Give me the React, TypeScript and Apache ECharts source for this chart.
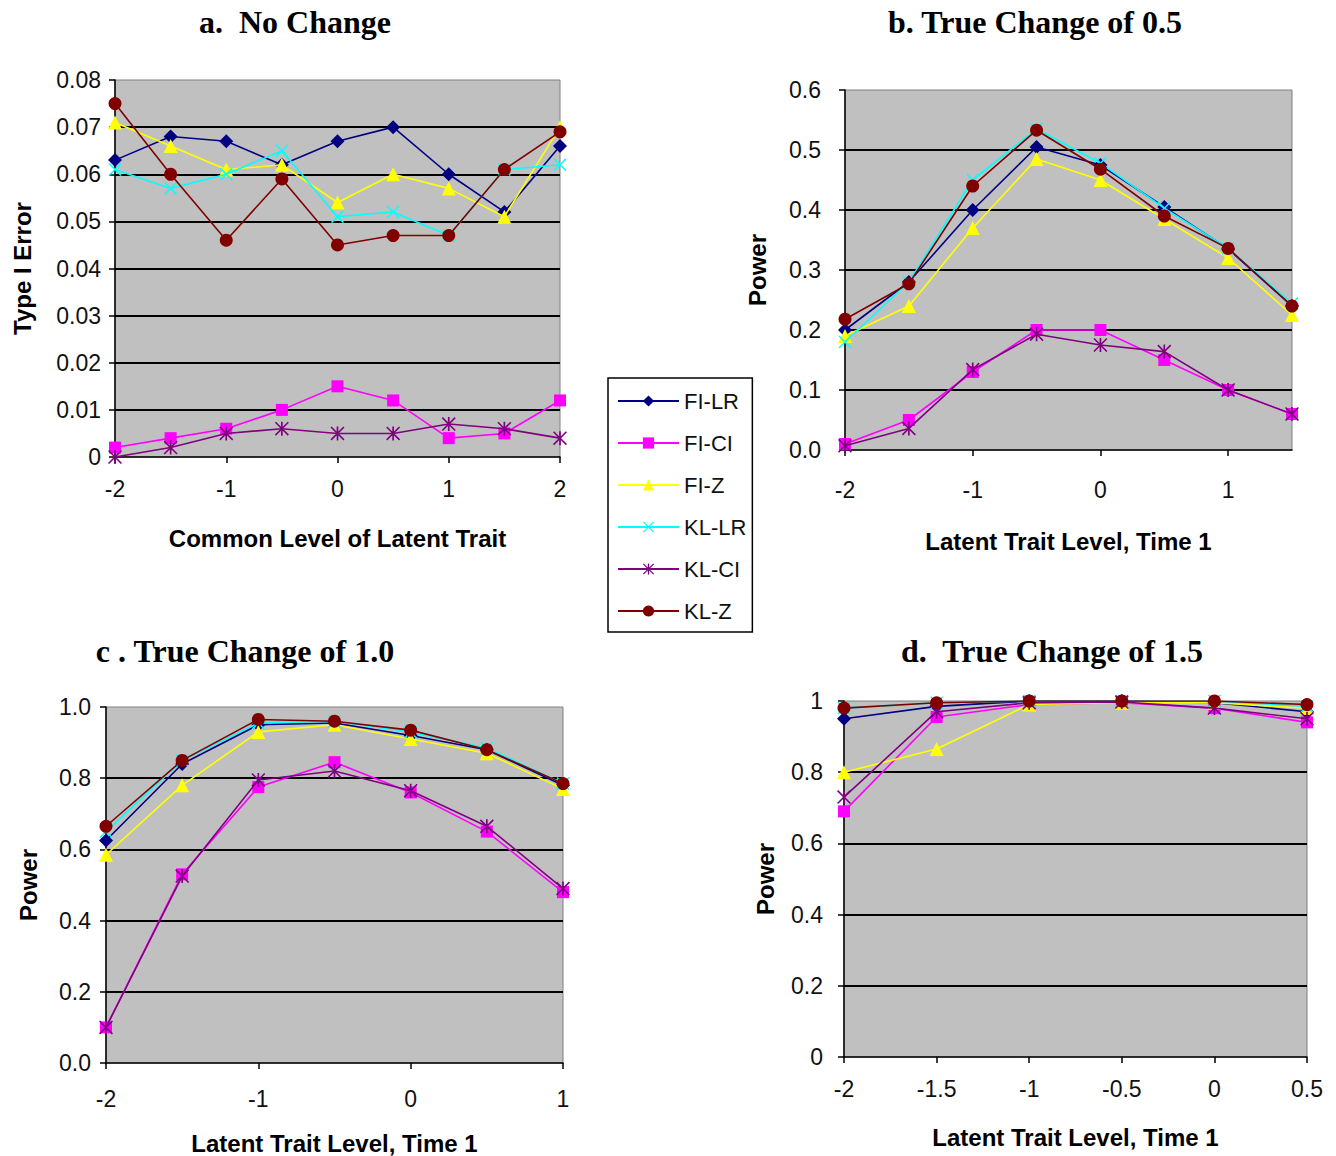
import React, { useEffect, useRef } from "react";
import * as echarts from "echarts";

// ---------- data ----------
const SERIES_NAMES = ["FI-LR", "FI-CI", "FI-Z", "KL-LR", "KL-CI", "KL-Z"];

const xA = ["-2", "-1.5", "-1", "-0.5", "0", "0.5", "1", "1.5", "2"];
const xB = ["-2", "-1.5", "-1", "-0.5", "0", "0.5", "1", "1.5"];
const xC = ["-2", "-1.5", "-1", "-0.5", "0", "0.5", "1"];
const xD = ["-2", "-1.5", "-1", "-0.5", "0", "0.5"];

const A_FILR = [0.063, 0.068, 0.067, 0.062, 0.067, 0.07, 0.06, 0.052, 0.066];
const A_FICI = [0.002, 0.004, 0.006, 0.01, 0.015, 0.012, 0.004, 0.005, 0.012];
const A_FIZ = [0.071, 0.066, 0.061, 0.062, 0.054, 0.06, 0.057, 0.051, 0.07];
const A_KLLR = [0.061, 0.057, 0.06, 0.065, 0.051, 0.052, 0.047, 0.061, 0.062];
const A_KLCI = [0.0, 0.002, 0.005, 0.006, 0.005, 0.005, 0.007, 0.006, 0.004];
const A_KLZ = [0.075, 0.06, 0.046, 0.059, 0.045, 0.047, 0.047, 0.061, 0.069];

const B_FILR = [0.2, 0.28, 0.4, 0.505, 0.475, 0.405, 0.335, 0.24];
const B_FICI = [0.01, 0.05, 0.13, 0.2, 0.2, 0.15, 0.1, 0.06];
const B_FIZ = [0.19, 0.24, 0.37, 0.485, 0.45, 0.385, 0.32, 0.225];
const B_KLLR = [0.18, 0.28, 0.45, 0.535, 0.478, 0.403, 0.336, 0.244];
const B_KLCI = [0.007, 0.036, 0.134, 0.193, 0.175, 0.164, 0.1, 0.06];
const B_KLZ = [0.218, 0.277, 0.44, 0.533, 0.468, 0.39, 0.336, 0.24];

const C_FILR = [0.625, 0.84, 0.95, 0.955, 0.92, 0.88, 0.78];
const C_FICI = [0.1, 0.53, 0.775, 0.845, 0.76, 0.65, 0.48];
const C_FIZ = [0.585, 0.78, 0.93, 0.95, 0.91, 0.87, 0.77];
const C_KLLR = [0.65, 0.85, 0.955, 0.96, 0.93, 0.885, 0.785];
const C_KLCI = [0.1, 0.525, 0.795, 0.82, 0.765, 0.665, 0.49];
const C_KLZ = [0.665, 0.85, 0.965, 0.96, 0.935, 0.88, 0.785];

const D_FILR = [0.95, 0.985, 1.0, 1.0, 0.995, 0.97];
const D_FICI = [0.69, 0.955, 0.99, 0.995, 0.98, 0.94];
const D_FIZ = [0.8, 0.865, 0.99, 0.995, 0.995, 0.98];
const D_KLLR = [0.98, 0.995, 1.0, 1.0, 1.0, 0.985];
const D_KLCI = [0.73, 0.97, 0.995, 0.997, 0.98, 0.95];
const D_KLZ = [0.98, 0.995, 1.0, 1.0, 1.0, 0.99];

const TITLES = [
  "a.  No Change",
  "b. True Change of 0.5",
  "c . True Change of 1.0",
  "d.  True Change of 1.5",
];
const X_NAMES = [
  "Common Level of Latent Trait",
  "Latent Trait Level, Time 1",
  "Latent Trait Level, Time 1",
  "Latent Trait Level, Time 1",
];
const Y_NAMES = ["Type I Error", "Power", "Power", "Power"];

// ---------- styles ----------
const COLORS = ["#000080", "#FF00FF", "#FFFF00", "#00FFFF", "#800080", "#800000"];
const X_PATH =
  "path://M0 0.8L0.8 0L10 9.2L9.2 10ZM9.2 0L10 0.8L0.8 10L0 9.2Z";
const STAR_PATH =
  "path://M0 0.8L0.8 0L10 9.2L9.2 10ZM9.2 0L10 0.8L0.8 10L0 9.2ZM4.4 0L5.6 0L5.6 10L4.4 10Z";
const SYMBOLS = ["diamond", "rect", "triangle", X_PATH, STAR_PATH, "circle"];
const SYMBOL_SIZES = [14, 12, 14, 13, 14, 13];

const SANS = "Arial, 'Liberation Sans', sans-serif";
const SERIF = "'Times New Roman', 'Liberation Serif', serif";

export default function App() {
  const ref = useRef<HTMLDivElement>(null);

  useEffect(() => {
    if (!ref.current) return;
    const chart = echarts.init(ref.current, undefined, { renderer: "svg" });

    const panels = [
      { cats: xA, data: [A_FILR, A_FICI, A_FIZ, A_KLLR, A_KLCI, A_KLZ], max: 0.08, interval: 0.01,
        fmt: (v: number) => (v === 0 ? "0" : v.toFixed(2)), skip: 1,
        grid: { left: 115, top: 80, width: 445, height: 377 },
        xMargin: 20, yMargin: 14, xGap: 69, yGap: 81, title: [295, 6] },
      { cats: xB, data: [B_FILR, B_FICI, B_FIZ, B_KLLR, B_KLCI, B_KLZ], max: 0.6, interval: 0.1,
        fmt: (v: number) => v.toFixed(1), skip: 1,
        grid: { left: 845, top: 90, width: 447, height: 360 },
        xMargin: 28, yMargin: 24, xGap: 79, yGap: 76, title: [1035, 6] },
      { cats: xC, data: [C_FILR, C_FICI, C_FIZ, C_KLLR, C_KLCI, C_KLZ], max: 1, interval: 0.2,
        fmt: (v: number) => v.toFixed(1), skip: 1,
        grid: { left: 106, top: 707, width: 457, height: 356 },
        xMargin: 24, yMargin: 15, xGap: 68, yGap: 66, title: [245, 635] },
      { cats: xD, data: [D_FILR, D_FICI, D_FIZ, D_KLLR, D_KLCI, D_KLZ], max: 1, interval: 0.2,
        fmt: (v: number) => (v === 0 || v === 1 ? String(v) : v.toFixed(1)), skip: 0,
        grid: { left: 844, top: 701, width: 463, height: 356 },
        xMargin: 20, yMargin: 21, xGap: 68, yGap: 67, title: [1052, 635] },
    ];

    const grids: any[] = [];
    const xAxes: any[] = [];
    const yAxes: any[] = [];
    const series: any[] = [];
    const titles: any[] = [];

    panels.forEach((p, i) => {
      grids.push({
        ...p.grid,
        show: true,
        backgroundColor: "#C0C0C0",
        borderColor: "#808080",
        borderWidth: 1,
        containLabel: false,
      });
      xAxes.push({
        type: "category",
        gridIndex: i,
        data: p.cats,
        boundaryGap: false,
        name: X_NAMES[i],
        nameLocation: "middle",
        nameGap: p.xGap,
        nameTextStyle: { fontFamily: SANS, fontSize: 24, fontWeight: "bold", color: "#000" },
        axisLine: { show: true, lineStyle: { color: "#000", width: 1.5 } },
        axisTick: { show: true, inside: false, length: 6, interval: p.skip, lineStyle: { color: "#000", width: 1.5 } },
        axisLabel: { interval: p.skip, margin: p.xMargin, fontFamily: SANS, fontSize: 23, color: "#111" },
        splitLine: { show: false },
      });
      yAxes.push({
        type: "value",
        gridIndex: i,
        min: 0,
        max: p.max,
        interval: p.interval,
        name: Y_NAMES[i],
        nameLocation: "middle",
        nameGap: p.yGap,
        nameRotate: 90,
        nameTextStyle: { fontFamily: SANS, fontSize: 24, fontWeight: "bold", color: "#000" },
        axisLine: { show: true, lineStyle: { color: "#000", width: 1.5 } },
        axisTick: { show: true, inside: false, length: 6, lineStyle: { color: "#000", width: 1.5 } },
        axisLabel: { margin: p.yMargin, fontFamily: SANS, fontSize: 23, color: "#111", formatter: p.fmt },
        splitLine: { show: true, showMaxLine: false, showMinLine: false, lineStyle: { color: "#000", width: 1.8 } },
      });
      p.data.forEach((vals, k) => {
        series.push({
          type: "line",
          name: SERIES_NAMES[k],
          xAxisIndex: i,
          yAxisIndex: i,
          data: vals,
          symbol: SYMBOLS[k],
          symbolSize: SYMBOL_SIZES[k],
          showAllSymbol: true,
          lineStyle: { color: COLORS[k], width: 1.6 },
          itemStyle: { color: COLORS[k], borderWidth: 0 },
          emphasis: { disabled: true },
          silent: true,
          z: 2 + k,
        });
      });
      titles.push({
        text: TITLES[i],
        left: p.title[0],
        top: p.title[1],
        textAlign: "center",
        padding: 0,
        textStyle: { fontFamily: SERIF, fontSize: 32, fontWeight: "bold", color: "#000" },
      });
    });

    chart.setOption({
      animation: false,
      backgroundColor: "#fff",
      title: titles,
      grid: grids,
      xAxis: xAxes,
      yAxis: yAxes,
      series,
      legend: {
        orient: "vertical",
        left: 608,
        top: 378,
        data: SERIES_NAMES,
        backgroundColor: "#fff",
        borderColor: "#000",
        borderWidth: 1.5,
        borderRadius: 0,
        padding: [12, 6, 10, 9],
        itemWidth: 61,
        itemHeight: 14,
        itemGap: 20,
        selectedMode: false,
        textStyle: { fontFamily: SANS, fontSize: 22, color: "#111", lineHeight: 22 },
      },
    });

    return () => chart.dispose();
  }, []);

  return (
    <div
      ref={ref}
      style={{ position: "absolute", left: 0, top: 0, width: 1336, height: 1156 }}
    />
  );
}
